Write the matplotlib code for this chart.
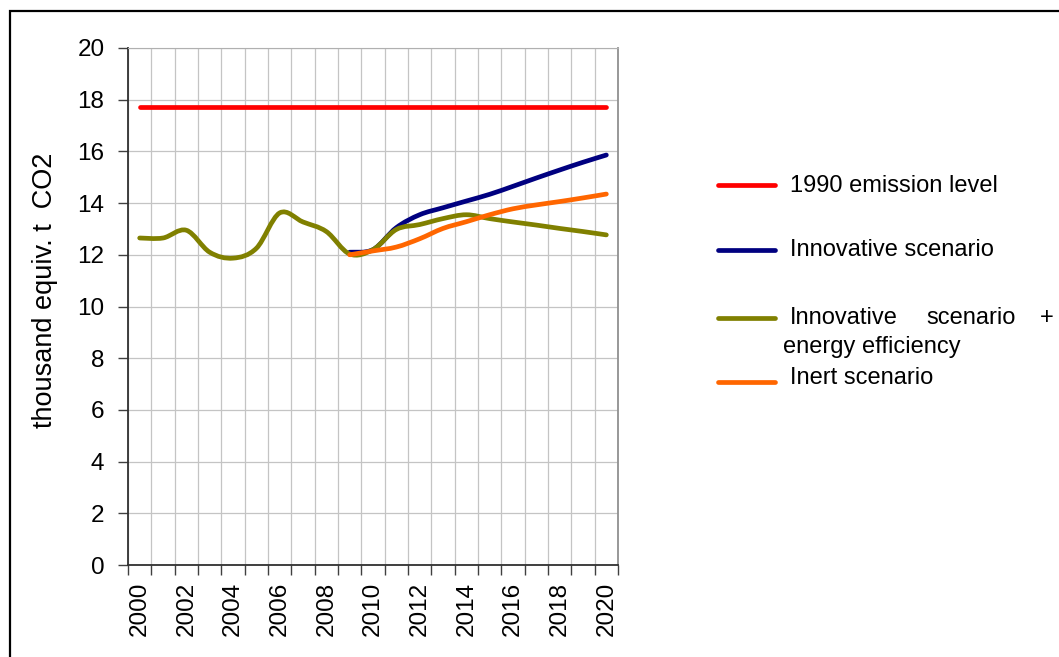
import numpy as np
import matplotlib
matplotlib.use("Agg")
import matplotlib.pyplot as plt
from matplotlib.path import Path
from matplotlib.patches import PathPatch, Rectangle
from matplotlib.lines import Line2D

plt.rcParams['font.family'] = ['Liberation Sans', 'DejaVu Sans']

# ---- data ----
years = list(range(2000, 2021))
level_1990 = [17.72] * 21
innovative = [None] * 9 + [12.1, 12.2, 13.05, 13.55, 13.82, 14.08, 14.34, 14.65, 14.97, 15.28, 15.58, 15.86]
innov_eff = [12.65, 12.65, 12.95, 12.1, 11.87, 12.25, 13.62, 13.27, 12.9, 12.03,
             12.2, 12.98, 13.17, 13.4, 13.55, 13.4, 13.27, 13.15, 13.02, 12.9, 12.77]
inert = [None] * 9 + [12.0, 12.15, 12.3, 12.62, 13.02, 13.28, 13.55, 13.78, 13.93, 14.06, 14.2, 14.35]
xtick_years = list(range(2000, 2021, 2))
yticks = list(range(0, 21, 2))

series = [
    ("1990 emission level", level_1990, "#FF0000", False),
    ("Innovative scenario", innovative, "#000080", True),
    ("Innovative scenario + energy efficiency", innov_eff, "#808000", True),
    ("Inert scenario", inert, "#FF6600", True),
]

fig = plt.figure(figsize=(10.59, 6.57), dpi=100)
ax = fig.add_axes([128 / 1059, 92 / 657, 490 / 1059, 517 / 657])


def smooth_path(xs, ys):
    pts = np.column_stack([xs, ys]).astype(float)
    n = len(pts)
    verts = [pts[0]]
    codes = [Path.MOVETO]
    for i in range(n - 1):
        p0 = pts[i - 1] if i > 0 else pts[i]
        p1 = pts[i]
        p2 = pts[i + 1]
        p3 = pts[i + 2] if i + 2 < n else pts[i + 1]
        c1 = p1 + (p2 - p0) / 6.0
        c2 = p2 - (p3 - p1) / 6.0
        verts += [c1, c2, p2]
        codes += [Path.CURVE4] * 3
    return Path(verts, codes)


for name, vals, col, smooth in series:
    xs = [i for i, v in enumerate(vals) if v is not None]
    ys = [v for v in vals if v is not None]
    if smooth:
        patch = PathPatch(smooth_path(xs, ys), fill=False, edgecolor=col, lw=3.4,
                          capstyle='round', joinstyle='round', transform=ax.transData,
                          zorder=3)
        ax.add_patch(patch)
    else:
        ax.plot(xs, ys, color=col, lw=3.4, solid_capstyle='round', zorder=3)

ax.set_xlim(-0.5, 20.5)
ax.set_ylim(0, 20)
ax.set_yticks(yticks)
ax.set_yticklabels([str(v) for v in yticks], fontsize=17.5)
ax.set_xticks([y - 2000 for y in xtick_years])
ax.set_xticklabels([str(y) for y in xtick_years], rotation=90, fontsize=17.5)
ax.set_xticks(np.arange(-0.5, 21, 1.0), minor=True)
ax.tick_params(axis='x', which='major', length=0, pad=12)
ax.tick_params(axis='x', which='minor', length=7, width=1.0, direction='out', color='#404040')
ax.tick_params(axis='y', which='major', length=7, width=1.0, direction='out', color='#404040', pad=10)
ax.grid(True, axis='x', which='minor', color='#c4c4c4', lw=0.9, zorder=0)
ax.grid(True, axis='y', which='major', color='#c4c4c4', lw=0.9, zorder=0)
ax.set_axisbelow(True)
for s in ['left', 'bottom']:
    ax.spines[s].set_color('#303030')
    ax.spines[s].set_linewidth(1.3)
ax.spines['top'].set_color('#b0b0b0')
ax.spines['right'].set_color('#909090')
ax.spines['right'].set_linewidth(1.3)

ax.set_ylabel("thousand equiv. t  CO2", fontsize=19.5)
ax.yaxis.set_label_coords(-0.143, 0.532)

# figure border
fig.add_artist(Rectangle((10 / 1059, -0.05), 1.2, (657 - 11) / 657 + 0.05,
                         transform=fig.transFigure, fill=False, edgecolor='black', lw=1.6))

# legend (manual layout)
W, H = 1059.0, 657.0
def fx(px):
    return px / W
def fy(py):
    return 1 - py / H

leg_rows = [185, 250, 318, 382]
fs = 17
for ly, (name, vals, col, smooth) in zip(leg_rows, series):
    fig.add_artist(Line2D([fx(718), fx(775)], [fy(ly), fy(ly)], color=col, lw=3.4,
                          solid_capstyle='round', transform=fig.transFigure))
fig.text(fx(790), fy(186), "1990 emission level", fontsize=fs, va='center', ha='left')
fig.text(fx(790), fy(250), "Innovative scenario", fontsize=fs, va='center', ha='left')
fig.text(fx(790), fy(318), "Innovative", fontsize=fs, va='center', ha='left')
fig.text(fx(926), fy(318), "scenario", fontsize=fs, va='center', ha='left')
fig.text(fx(1040), fy(318), "+", fontsize=fs, va='center', ha='left')
fig.text(fx(783), fy(347), "energy efficiency", fontsize=fs, va='center', ha='left')
fig.text(fx(790), fy(378), "Inert scenario", fontsize=fs, va='center', ha='left')

fig.savefig("out.png", dpi=100)
